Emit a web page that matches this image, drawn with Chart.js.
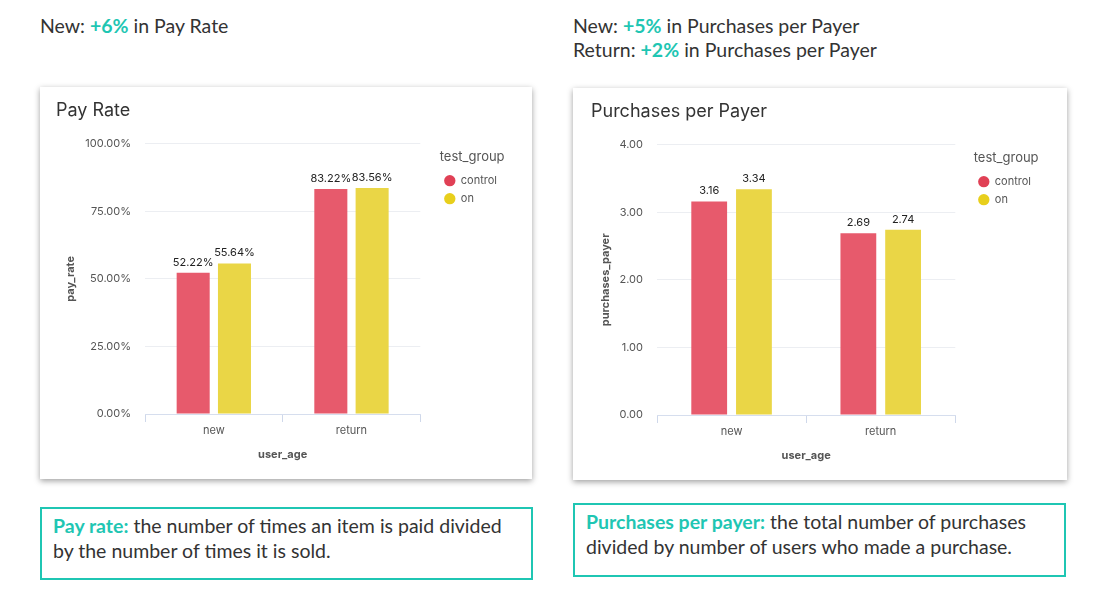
<!DOCTYPE html>
<html>
<head>
<meta charset="utf-8">
<script src="https://cdn.jsdelivr.net/npm/chart.js@4.4.1/dist/chart.umd.min.js"></script>
<style>
  html, body { margin:0; padding:0; background:#fff; width:1108px; height:604px; overflow:hidden; }
  body { position:relative; font-family: Lato, "Open Sans", sans-serif; color:#333; }
  .hdr { position:absolute; font-size:19.5px; line-height:24px; color:#333; }
  .hdr b { color:#1fc6b3; font-weight:700; }
  .card { position:absolute; background:#fff; box-shadow: 0 2px 6px rgba(0,0,0,0.38); }
  .card canvas { position:absolute; left:0; top:0; }
  .note { position:absolute; border:2px solid #1fc6b3; box-sizing:border-box; font-size:19.5px; line-height:25px; color:#333; padding:4px 11px; }
  .note b { color:#1fc6b3; font-weight:700; }
</style>
</head>
<body>
<div class="hdr" style="left:40px; top:14px;">New: <b>+6%</b> in Pay Rate</div>
<div class="hdr" style="left:573px; top:14px;">New: <b>+5%</b> in Purchases per Payer<br>Return: <b>+2%</b> in Purchases per Payer</div>

<div class="card" style="left:40px; top:87px; width:492px; height:392px;"><canvas id="c1" width="492" height="392"></canvas></div>
<div class="card" style="left:573px; top:88px; width:494px; height:392px;"><canvas id="c2" width="494" height="392"></canvas></div>

<div class="note" style="left:40px; top:507px; width:493px; height:73px;"><b>Pay rate:</b> the number of times an item is paid divided by the number of times it is sold.</div>
<div class="note" style="left:573px; top:503px; width:493px; height:74px;"><b>Purchases per payer:</b> the total number of purchases divided by number of users who made a purchase.</div>

<script>
const categories = ["new", "return"];
const groups = ["control", "on"];
const payRateControl = [52.22, 83.22];
const payRateOn = [55.64, 83.56];
const payRateTicks = [0, 25, 50, 75, 100];
const purchasesControl = [3.16, 2.69];
const purchasesOn = [3.34, 2.74];
const purchasesTicks = [0, 1, 2, 3, 4];

const barColors = ["#e75a6c", "#ead646"];
const legendColors = ["#e04055", "#e8cf1c"];
const FONT = "Inter, 'Noto Sans', sans-serif";

const valueLabels = {
  id: 'valueLabels',
  afterDatasetsDraw(chart, args, opts) {
    const ctx = chart.ctx;
    ctx.save();
    ctx.font = "11px " + FONT;
    ctx.fillStyle = "#222";
    ctx.textAlign = "center";
    ctx.textBaseline = "bottom";
    chart.data.datasets.forEach((ds, i) => {
      chart.getDatasetMeta(i).data.forEach((bar, j) => {
        ctx.fillText(opts.fmt(ds.data[j]), bar.x, bar.y - 5);
      });
    });
    ctx.restore();
  }
};

function makeChart(id, title, yTitle, dataA, dataB, ticks, fmt, yWidth, padLeft, padRight, gapW) {
  return new Chart(document.getElementById(id), {
    type: 'bar',
    data: {
      labels: categories,
      datasets: [
        { label: groups[0], data: dataA, backgroundColor: barColors[0], categoryPercentage: 0.6, barPercentage: 0.8 },
        { label: groups[1], data: dataB, backgroundColor: barColors[1], categoryPercentage: 0.6, barPercentage: 0.8 }
      ]
    },
    plugins: [valueLabels],
    options: {
      responsive: false,
      animation: false,
      devicePixelRatio: 1,
      layout: { padding: { left: padLeft, right: padRight, top: 0, bottom: 10 } },
      plugins: {
        valueLabels: { fmt: fmt },
        tooltip: { enabled: false },
        title: {
          display: true, text: title, align: 'start',
          color: '#333', font: { family: FONT, size: 18, weight: 'normal' },
          padding: { top: 13, bottom: 22 }
        },
        legend: {
          position: 'right', align: 'start', fullSize: false,
          title: { display: true, text: 'test_group', color: '#555', font: { family: FONT, size: 13 }, padding: { top: 7, bottom: 2 } },
          labels: {
            usePointStyle: true, pointStyle: 'circle', boxWidth: 11, boxHeight: 8,
            color: '#555', font: { family: FONT, size: 11 }, padding: 7,
            generateLabels: (chart) => groups.map((g, i) => ({
              text: g, fillStyle: legendColors[i], strokeStyle: legendColors[i], lineWidth: 0,
              pointStyle: 'circle', datasetIndex: i, hidden: false, fontColor: '#555'
            }))
          }
        }
      },
      scales: {
        x: {
          grid: { display: true, drawOnChartArea: false, drawTicks: true, tickLength: 8, color: '#cfd8ea', offset: true },
          border: { display: true, color: '#d6deee' },
          ticks: { color: '#555', font: { family: FONT, size: 11 }, padding: 2 },
          title: { display: true, text: 'user_age', color: '#555', font: { family: FONT, size: 11, weight: 'bold' }, padding: { top: 4, bottom: 8 } },
          afterFit: (s) => { s.height = 55; }
        },
        y: {
          min: ticks[0], max: ticks[ticks.length - 1],
          afterBuildTicks: (s) => { s.ticks = ticks.map(v => ({ value: v })); },
          grid: { color: '#eceef2', drawTicks: false },
          border: { display: false },
          ticks: { color: '#555', font: { family: FONT, size: 11 }, padding: 14, callback: (v) => fmt(v) },
          title: { display: true, text: yTitle, color: '#555', font: { family: FONT, size: 11, weight: 'bold' }, padding: { top: 8, bottom: 0 } },
          afterFit: (s) => { s.width = yWidth; }
        },
        gap: {
          type: 'linear', position: 'right', display: true,
          grid: { display: false, drawTicks: false }, border: { display: false },
          ticks: { display: false },
          afterFit: (s) => { s.width = gapW; }
        }
      }
    }
  });
}

makeChart('c1', 'Pay Rate', 'pay_rate', payRateControl, payRateOn, payRateTicks,
  (v) => v.toFixed(2) + '%', 89, 16, 25, 17);
makeChart('c2', 'Purchases per Payer', 'purchases_payer', purchasesControl, purchasesOn, purchasesTicks,
  (v) => v.toFixed(2), 66, 18, 26, 16);
</script>
</body>
</html>
